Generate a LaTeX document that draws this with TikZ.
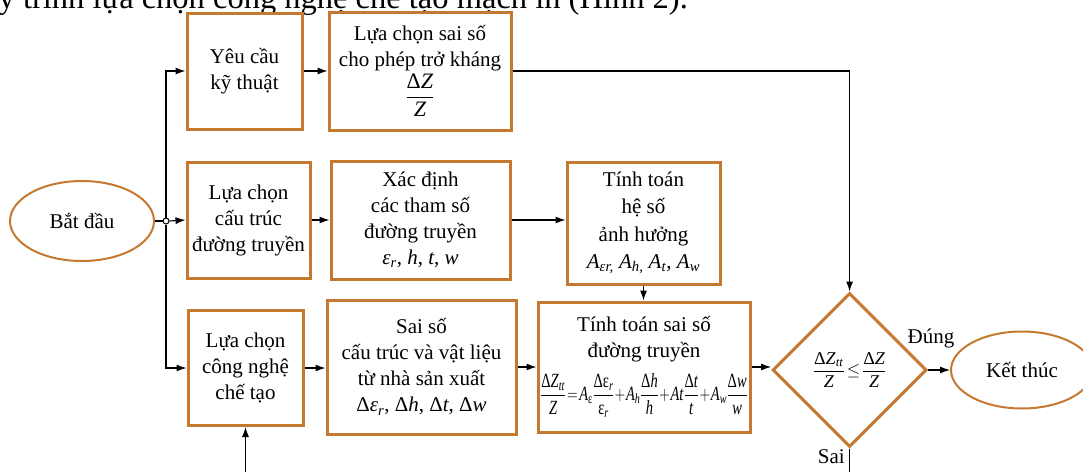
\documentclass[tikz,border=0pt]{standalone}
\usepackage{fontspec}
\setmainfont{Liberation Serif}
\usepackage{amsmath}
\usepackage{graphicx}
\usetikzlibrary{shapes.geometric,arrows.meta}
\definecolor{boxc}{RGB}{197,120,48}
\newcommand{\iv}[1]{\textit{#1}}
\newcommand{\sbi}[1]{\textsubscript{\textit{#1}}}
\begin{document}
\begin{tikzpicture}[x=1pt,y=-1pt,
  every node/.style={font=\fontsize{21}{26}\selectfont, align=center},
  box/.style={draw=boxc, line width=3pt, inner sep=0pt, fill=white},
  term/.style={ellipse, draw=boxc, line width=2pt, inner sep=0pt},
  dec/.style={diamond, draw=boxc, line width=3pt, inner sep=0pt, minimum width=154pt, minimum height=154pt, aspect=1},
  arr/.style={-{Latex[length=10pt,width=7pt]}, line width=1.1pt},
  ln/.style={line width=1.1pt},
  lbl/.style={font=\fontsize{21}{26}\selectfont, inner sep=0pt}]
\useasboundingbox (0,0) rectangle (1083,471);
\clip (0,0) rectangle (1083,471);

% cut page text at top
\node[anchor=base east, inner sep=0pt, font=\fontsize{32.5}{38}\selectfont] (pagetext) at (688,8.5) {quy trình lựa chọn công nghệ chế tạo mạch in (Hình 2).};

% nodes
\node[term, minimum width=144pt, minimum height=80pt] (start) at (82,221) {Bắt đầu};
\node[box, minimum width=115pt, minimum height=116pt] (yc) at (244.5,71) {Yêu cầu\\kỹ thuật};
\node[box, minimum width=182pt, minimum height=118pt] (sp) at (420,71) {Lựa chọn sai số\\cho phép trở kháng\\[2pt]{\fontsize{22}{26}\selectfont$\dfrac{\text{Δ\iv{Z}}}{\text{\iv{Z}}}$}};
\node[box, minimum width=123pt, minimum height=116pt] (ct) at (248.5,220) {Lựa chọn\\cấu trúc\\đường truyền};
\node[box, minimum width=179pt, minimum height=118pt] (xd) at (420.5,220) {Xác định\\các tham số\\đường truyền\\\iv{ε}\sbi{r}, \iv{h}, \iv{t}, \iv{w}};
\node[box, minimum width=153pt, minimum height=122pt, font=\fontsize{21}{27.5}\selectfont] (hs) at (643.5,223) {Tính toán\\hệ số\\ảnh hưởng\\\iv{A}\sbi{εr,} \iv{A}\sbi{h,} \iv{A}\sbi{t}, \iv{A}\sbi{w}};
\node[box, minimum width=115pt, minimum height=115pt] (cn) at (245.5,368) {Lựa chọn\\công nghệ\\chế tạo};
\node[box, minimum width=189pt, minimum height=134pt] (vl) at (421.5,367) {Sai số\\cấu trúc và vật liệu\\từ nhà sản xuất\\Δ\iv{ε}\sbi{r}, Δ\iv{h}, Δ\iv{t}, Δ\iv{w}};
\node[box, minimum width=212pt, minimum height=130pt] (tt) at (644,367) {Tính toán sai số\\đường truyền\\[10pt]\resizebox*{207pt}{44pt}{$\dfrac{\text{Δ\iv{Z}\sbi{tt}}}{\text{\iv{Z}}}\!=\!\text{\iv{A}\textsubscript{ε}}\dfrac{\text{Δε\sbi{r}}}{\text{ε\sbi{r}}}\!+\!\text{\iv{A}\sbi{h}}\dfrac{\text{Δ\iv{h}}}{\text{\iv{h}}}\!+\!\text{\iv{At}}\dfrac{\text{Δ\iv{t}}}{\text{\iv{t}}}\!+\!\text{\iv{A}\sbi{w}}\dfrac{\text{Δ\iv{w}}}{\text{\iv{w}}}$}};
\node[dec] (dec) at (849.6,370) {{\fontsize{18}{22}\selectfont$\dfrac{\text{Δ\iv{Z}\sbi{tt}}}{\text{\iv{Z}}}\!\le\!\dfrac{\text{Δ\iv{Z}}}{\text{\iv{Z}}}$}};
\node[term, minimum width=142pt, minimum height=77pt] (end) at (1022,370) {Kết thúc};
\node[circle, draw, fill=white, inner sep=0pt, minimum size=6pt, line width=1pt] (jn) at (166,221) {};

\coordinate (b1) at (245.5,480);
\coordinate (b2) at (849.6,480);

% labels
\node[lbl] (dung) at (931,338) {Đúng};
\node[lbl, anchor=east] (sai) at (845,457) {Sai};

% connectors
\draw[ln] (start.east) -- (jn.west);
\draw[arr] (jn.east) -- (ct.west);
\draw[arr] (jn.north) |- (yc.west);
\draw[arr] (jn.south) |- (cn.west);
\draw[arr] (yc.east) -- (sp.west);
\draw[arr] (sp.east) -| (dec.north);
\draw[arr] (ct.east) -- (ct.east -| xd.west);
\draw[arr] (xd.east) -- (xd.east -| hs.west);
\draw[arr] (hs.south) -- (hs.south |- tt.north);
\draw[arr] (cn.east) -- (cn.east -| vl.west);
\draw[arr] (vl.east) -- (vl.east -| tt.west);
\draw[arr] (tt.east) -- (tt.east -| dec.west);
\draw[arr] (dec.east) -- (end.west);
\draw[ln] (dec.south) -- (b2);
\draw[arr] (b1) -- (cn.south);
\end{tikzpicture}
\end{document}
